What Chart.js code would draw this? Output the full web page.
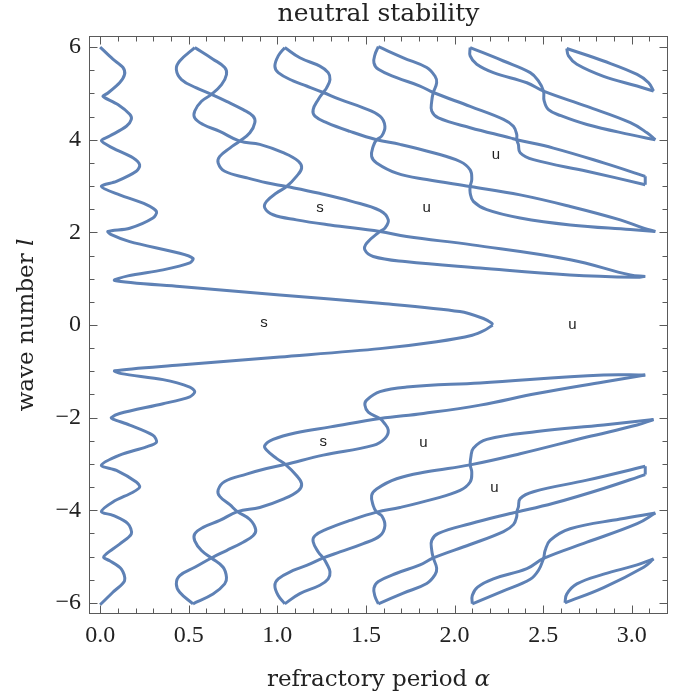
<!DOCTYPE html>
<html>
<head>
<meta charset="utf-8">
<title>neutral stability</title>
<script src="https://cdn.jsdelivr.net/npm/chart.js@4.4.1/dist/chart.umd.min.js"></script>
<style>
  html, body { margin: 0; padding: 0; background: #fff; }
  #wrap { width: 695px; height: 698px; }
</style>
</head>
<body>
<div id="wrap"><canvas id="chart" width="695" height="698"></canvas></div>
<script>
/* neutral stability curves (alpha vs wave number l) */
const BLUE = "#5e81b5";
const INK = "#222";
const FRAME = "#5a5a5a";

// ticks
const xMajor = [0, 0.5, 1, 1.5, 2, 2.5, 3];
const xMinor = [0.1, 0.2, 0.3, 0.4, 0.6, 0.7, 0.8, 0.9, 1.1, 1.2, 1.3, 1.4, 1.6, 1.7, 1.8, 1.9,
  2.1, 2.2, 2.3, 2.4, 2.6, 2.7, 2.8, 2.9, 3.1];
const yMajor = [-6, -4, -2, 0, 2, 4, 6];
const yMinor = [-5.5, -5, -4.5, -3.5, -3, -2.5, -1.5, -1, -0.5, 0.5, 1, 1.5, 2.5, 3, 3.5, 4.5, 5, 5.5];

// region labels
const labelText = ["s", "s", "u", "u", "u", "s", "u", "u"];
const labelAlpha = [0.925, 1.24, 1.843, 2.234, 2.665, 1.259, 1.824, 2.225];
const labelL = [0.05, 2.54, 2.53, 3.68, 0.0, -2.53, -2.55, -3.52];

// curve 1: zigzag near alpha = 0 joined to the main lobe (tip near 2.2)
const f1Up = [[0.0, 6.0], [0.072, 5.74], [0.129, 5.56], [0.138, 5.41], [0.11, 5.23], [0.044, 5.01], [0.016, 4.94],
  [0.025, 4.91], [0.1, 4.76], [0.167, 4.55], [0.176, 4.44], [0.148, 4.29], [0.054, 4.08], [0.007, 3.98],
  [0.072, 3.82], [0.185, 3.61], [0.223, 3.46], [0.204, 3.32], [0.092, 3.10], [0.007, 2.99], [0.11, 2.81],
  [0.261, 2.60], [0.318, 2.45], [0.298, 2.31], [0.167, 2.09], [0.044, 2.02], [0.063, 1.95], [0.167, 1.80],
  [0.449, 1.55], [0.524, 1.44], [0.506, 1.34], [0.355, 1.19], [0.157, 1.06], [0.082, 0.96], [0.449, 0.83],
  [1.014, 0.65], [1.579, 0.47], [2.03, 0.29], [2.163, 0.14], [2.21, 0.04], [2.215, 0.0]];
const f1Low = [[0.0, -6.04], [0.072, -5.77], [0.138, -5.52], [0.12, -5.27], [0.054, -5.09], [0.02, -5.02],
  [0.035, -4.94], [0.11, -4.73], [0.176, -4.51], [0.157, -4.29], [0.072, -4.11], [0.007, -4.03], [0.072, -3.82],
  [0.185, -3.61], [0.223, -3.50], [0.204, -3.39], [0.092, -3.14], [0.007, -3.03], [0.11, -2.81], [0.261, -2.63],
  [0.318, -2.53], [0.298, -2.38], [0.167, -2.16], [0.072, -2.03], [0.063, -2.0], [0.11, -1.91], [0.355, -1.70],
  [0.506, -1.55], [0.534, -1.44], [0.506, -1.34], [0.355, -1.18], [0.12, -1.05], [0.082, -0.99], [0.449, -0.866],
  [1.014, -0.69], [1.579, -0.51], [1.899, -0.36], [2.10, -0.22], [2.172, -0.108], [2.215, 0.0]];

// curve 2: braid from alpha ~ 0.53
const f2UpA = [[0.534, 5.99], [0.449, 5.70], [0.43, 5.52], [0.459, 5.30], [0.543, 5.12], [0.628, 4.98], [0.713, 4.83],
  [0.807, 4.65], [0.863, 4.51], [0.873, 4.37], [0.845, 4.15], [0.788, 3.97], [0.732, 3.82], [0.675, 3.64],
  [0.666, 3.50], [0.703, 3.32], [0.826, 3.18], [0.939, 3.07], [1.052, 2.99], [1.23, 2.85], [1.42, 2.67],
  [1.58, 2.47], [1.626, 2.27], [1.607, 2.09], [1.579, 2.02], [1.505, 1.77], [1.494, 1.62], [1.541, 1.48],
  [1.72, 1.37], [2.144, 1.23], [2.65, 1.08], [3.03, 1.03], [3.076, 1.05]];
const f2UpB = [[0.534, 5.99], [0.637, 5.74], [0.703, 5.56], [0.713, 5.41], [0.685, 5.19], [0.628, 4.98], [0.572, 4.83],
  [0.534, 4.62], [0.534, 4.47], [0.581, 4.33], [0.675, 4.18], [0.788, 3.97], [0.901, 3.90], [1.033, 3.72],
  [1.118, 3.54], [1.137, 3.39], [1.108, 3.21], [1.052, 2.99], [0.995, 2.85], [0.939, 2.67], [0.929, 2.53],
  [0.976, 2.38], [1.108, 2.27], [1.297, 2.16], [1.579, 2.02], [1.73, 1.91], [2.10, 1.73], [2.653, 1.41],
  [2.992, 1.08], [3.076, 1.05]];
const f2LowA = [[0.524, -6.02], [0.449, -5.77], [0.43, -5.59], [0.449, -5.41], [0.534, -5.23], [0.628, -5.03],
  [0.713, -4.87], [0.807, -4.69], [0.863, -4.55], [0.878, -4.42], [0.845, -4.2], [0.775, -4.03], [0.732, -3.88],
  [0.675, -3.70], [0.666, -3.56], [0.703, -3.38], [0.826, -3.22], [0.939, -3.10], [1.045, -3.01], [1.259, -2.81],
  [1.541, -2.60], [1.607, -2.45], [1.626, -2.27], [1.60, -2.10], [1.579, -2.02], [1.513, -1.88], [1.494, -1.73],
  [1.504, -1.62], [1.579, -1.44], [1.73, -1.34], [2.144, -1.25], [2.841, -1.08], [3.076, -1.08]];
const f2LowB = [[0.524, -6.02], [0.637, -5.81], [0.703, -5.59], [0.713, -5.45], [0.694, -5.23], [0.628, -5.03],
  [0.572, -4.87], [0.534, -4.66], [0.534, -4.51], [0.581, -4.37], [0.675, -4.22], [0.775, -4.03], [0.901, -3.94],
  [1.033, -3.76], [1.118, -3.58], [1.137, -3.43], [1.108, -3.25], [1.045, -3.01], [0.995, -2.88], [0.939, -2.70],
  [0.929, -2.60], [0.976, -2.47], [1.10, -2.33], [1.30, -2.20], [1.579, -2.02], [1.824, -1.91], [2.144, -1.73],
  [2.464, -1.48], [2.841, -1.23], [3.076, -1.08]];

// curve 3: braid from alpha ~ 1.04
const f3UpA = [[1.042, 5.99], [1.005, 5.81], [0.986, 5.59], [1.005, 5.45], [1.089, 5.27], [1.165, 5.16], [1.259, 5.02],
  [1.353, 4.87], [1.485, 4.69], [1.579, 4.51], [1.607, 4.29], [1.589, 4.08], [1.56, 4.0], [1.541, 3.86],
  [1.532, 3.64], [1.56, 3.50], [1.673, 3.28], [1.843, 3.14], [2.088, 2.99], [2.37, 2.81], [2.653, 2.56],
  [2.935, 2.27], [3.067, 2.09], [3.133, 2.02]];
const f3UpB = [[1.042, 5.99], [1.127, 5.77], [1.24, 5.59], [1.287, 5.45], [1.297, 5.30], [1.278, 5.12], [1.259, 5.02],
  [1.231, 4.87], [1.202, 4.65], [1.212, 4.51], [1.278, 4.37], [1.41, 4.18], [1.56, 4.0], [1.692, 3.90],
  [1.88, 3.72], [2.031, 3.53], [2.088, 3.35], [2.097, 3.14], [2.088, 2.99], [2.088, 2.85], [2.106, 2.67],
  [2.182, 2.49], [2.37, 2.31], [2.653, 2.16], [2.992, 2.06], [3.133, 2.02]];
const f3LowA = [[1.042, -6.02], [1.005, -5.84], [0.986, -5.63], [1.005, -5.48], [1.089, -5.30], [1.165, -5.19],
  [1.259, -5.03], [1.353, -4.90], [1.485, -4.72], [1.579, -4.55], [1.607, -4.33], [1.589, -4.12], [1.56, -4.04],
  [1.541, -3.90], [1.532, -3.68], [1.56, -3.54], [1.673, -3.32], [1.843, -3.17], [2.088, -3.02], [2.37, -2.78],
  [2.747, -2.42], [3.03, -2.16], [3.123, -2.04]];
const f3LowB = [[1.042, -6.02], [1.127, -5.80], [1.24, -5.62], [1.287, -5.48], [1.297, -5.33], [1.278, -5.15],
  [1.259, -5.03], [1.231, -4.90], [1.202, -4.68], [1.212, -4.55], [1.278, -4.41], [1.41, -4.22], [1.56, -4.04],
  [1.692, -3.94], [1.88, -3.76], [2.031, -3.57], [2.088, -3.39], [2.097, -3.17], [2.088, -3.02], [2.092, -2.85],
  [2.106, -2.66], [2.182, -2.47], [2.465, -2.30], [2.841, -2.16], [3.123, -2.04]];

// curve 4: braid from alpha ~ 1.57 (square end near alpha = 3.08)
const f4UpA = [[1.57, 6.01], [1.551, 5.84], [1.545, 5.66], [1.57, 5.52], [1.673, 5.34], [1.805, 5.16], [1.88, 5.02],
  [2.088, 4.72], [2.276, 4.44], [2.332, 4.29], [2.351, 4.11], [2.351, 4.0], [2.36, 3.90], [2.37, 3.72],
  [2.445, 3.57], [2.747, 3.32], [3.076, 3.03]];
const f4UpB = [[1.57, 6.01], [1.711, 5.77], [1.843, 5.56], [1.89, 5.37], [1.899, 5.23], [1.88, 5.02], [1.871, 4.83],
  [1.871, 4.62], [1.909, 4.47], [2.088, 4.26], [2.314, 4.04], [2.351, 4.0], [2.558, 3.82], [2.841, 3.50],
  [3.076, 3.21]];
const f4UpEnd = [[3.076, 3.21], [3.076, 3.03]];
const f4LowA = [[1.57, -6.02], [1.551, -5.86], [1.545, -5.68], [1.57, -5.54], [1.673, -5.36], [1.805, -5.18],
  [1.88, -5.03], [2.088, -4.74], [2.276, -4.46], [2.332, -4.31], [2.351, -4.13], [2.351, -4.04], [2.36, -3.93],
  [2.37, -3.75], [2.445, -3.60], [2.747, -3.35], [3.076, -3.05]];
const f4LowB = [[1.57, -6.02], [1.711, -5.79], [1.843, -5.58], [1.89, -5.39], [1.899, -5.25], [1.88, -5.03],
  [1.871, -4.86], [1.871, -4.65], [1.909, -4.50], [2.088, -4.29], [2.314, -4.07], [2.351, -4.04], [2.558, -3.85],
  [2.841, -3.53], [3.076, -3.23]];
const f4LowEnd = [[3.076, -3.23], [3.076, -3.05]];

// curve 5: from alpha ~ 2.09
const f5UpA = [[2.088, 5.99], [2.088, 5.81], [2.125, 5.63], [2.219, 5.45], [2.408, 5.23], [2.502, 5.05], [2.747, 4.72],
  [2.992, 4.37], [3.086, 4.15], [3.133, 4.0]];
const f5UpB = [[2.088, 5.99], [2.276, 5.70], [2.427, 5.45], [2.473, 5.27], [2.502, 5.05], [2.505, 4.85], [2.53, 4.65],
  [2.60, 4.52], [2.747, 4.33], [2.992, 4.11], [3.133, 4.0]];
const f5LowA = [[2.10, -6.02], [2.10, -5.84], [2.13, -5.66], [2.219, -5.48], [2.408, -5.26], [2.502, -5.04],
  [2.747, -4.69], [3.03, -4.29], [3.133, -4.06]];
const f5LowB = [[2.10, -6.02], [2.276, -5.74], [2.427, -5.49], [2.473, -5.30], [2.502, -5.04], [2.511, -4.87],
  [2.539, -4.65], [2.652, -4.40], [2.935, -4.19], [3.133, -4.06]];

// curve 6: closed loop from alpha ~ 2.63
const f6UpA = [[2.633, 5.97], [2.841, 5.70], [3.03, 5.41], [3.095, 5.23], [3.123, 5.05]];
const f6UpB = [[2.633, 5.97], [2.643, 5.81], [2.69, 5.63], [2.841, 5.37], [3.03, 5.16], [3.123, 5.05]];
const f6LowA = [[2.623, -6.0], [2.841, -5.67], [3.067, -5.23], [3.123, -5.05]];
const f6LowB = [[2.623, -6.0], [2.633, -5.81], [2.69, -5.59], [2.841, -5.38], [3.03, -5.18], [3.123, -5.05]];

const strands = [
  { pts: f1Up, t: 0.3 }, { pts: f1Low, t: 0.3 },
  { pts: f2UpA }, { pts: f2UpB }, { pts: f2LowA }, { pts: f2LowB },
  { pts: f3UpA }, { pts: f3UpB }, { pts: f3LowA }, { pts: f3LowB },
  { pts: f4UpA }, { pts: f4UpB }, { pts: f4UpEnd, t: 0 }, { pts: f4LowA }, { pts: f4LowB }, { pts: f4LowEnd, t: 0 },
  { pts: f5UpA }, { pts: f5UpB }, { pts: f5LowA }, { pts: f5LowB },
  { pts: f6UpA }, { pts: f6UpB }, { pts: f6LowA }, { pts: f6LowB },
];

const SERIF = '"DejaVu Serif", serif';
const TICKFONT = '"Liberation Serif", serif';

function minusFmt(v) {
  return v < 0 ? "\u2212" + Math.abs(v) : String(v);
}

// frame with inward ticks on all four sides, titles, region labels
const decor = {
  id: "decor",
  afterDatasetsDraw(chart) {
    const { ctx, scales: { x, y } } = chart;
    ctx.save();
    ctx.fillStyle = INK;
    ctx.font = '15px "Liberation Sans", sans-serif';
    ctx.textAlign = "center";
    ctx.textBaseline = "middle";
    labelText.forEach((t, i) => {
      ctx.fillText(t, x.getPixelForValue(labelAlpha[i]), y.getPixelForValue(labelL[i]));
    });
    ctx.restore();
  },
  afterDraw(chart) {
    const { ctx, chartArea: a, scales: { x, y } } = chart;
    const L = Math.round(a.left) + 0.5, R = Math.round(a.right) - 0.5;
    const T = Math.round(a.top) + 0.5, B = Math.round(a.bottom) - 0.5;
    ctx.save();
    ctx.strokeStyle = FRAME;
    ctx.lineWidth = 1;
    ctx.strokeRect(L, T, R - L, B - T);
    ctx.beginPath();
    const xt = (vals, len) => vals.forEach((v) => {
      const px = Math.round(x.getPixelForValue(v)) + 0.5;
      ctx.moveTo(px, B); ctx.lineTo(px, B - len);
      ctx.moveTo(px, T); ctx.lineTo(px, T + len);
    });
    const yt = (vals, len) => vals.forEach((v) => {
      const py = Math.round(y.getPixelForValue(v)) + 0.5;
      ctx.moveTo(L, py); ctx.lineTo(L + len, py);
      ctx.moveTo(R, py); ctx.lineTo(R - len, py);
    });
    xt(xMajor, 8); xt(xMinor, 5);
    yt(yMajor, 8); yt(yMinor, 5);
    ctx.stroke();

    // plot title
    ctx.fillStyle = INK;
    ctx.textBaseline = "alphabetic";
    ctx.textAlign = "center";
    ctx.font = "25px " + SERIF;
    const cx = (a.left + a.right) / 2;
    ctx.fillText("neutral stability", cx, 21);

    // axis labels with italic symbols
    const mixed = (plain, sym, px, py) => {
      ctx.font = "23px " + SERIF;
      const w1 = ctx.measureText(plain).width;
      ctx.font = "italic 23px " + SERIF;
      const w2 = ctx.measureText(sym).width;
      let sx = px - (w1 + w2) / 2;
      ctx.textAlign = "left";
      ctx.font = "23px " + SERIF;
      ctx.fillText(plain, sx, py);
      ctx.font = "italic 23px " + SERIF;
      ctx.fillText(sym, sx + w1, py);
    };
    mixed("refractory period ", "\u03b1", cx, 686);
    ctx.translate(33, (a.top + a.bottom) / 2);
    ctx.rotate(-Math.PI / 2);
    mixed("wave number ", "l", 0, 0);
    ctx.restore();
  },
};

new Chart(document.getElementById("chart"), {
  type: "scatter",
  data: {
    datasets: strands.map((s) => ({
      data: s.pts.map((p) => ({ x: p[0], y: p[1] })),
      showLine: true,
      borderColor: BLUE,
      borderWidth: 3,
      pointRadius: 0,
      pointHoverRadius: 0,
      tension: s.t === undefined ? 0.4 : s.t,
      fill: false,
    })),
  },
  options: {
    responsive: false,
    animation: false,
    devicePixelRatio: 1,
    layout: { padding: { top: 36, right: 27, left: 0, bottom: 0 } },
    plugins: { legend: { display: false }, tooltip: { enabled: false }, title: { display: false } },
    scales: {
      x: {
        type: "linear",
        min: -0.0628,
        max: 3.2044,
        grid: { display: false, drawTicks: false },
        border: { display: false },
        afterFit: (s) => { s.height = 84; },
        afterBuildTicks: (s) => { s.ticks = xMajor.map((v) => ({ value: v })); },
        ticks: {
          padding: 7,
          color: INK,
          autoSkip: false,
          maxRotation: 0,
          font: { family: TICKFONT, size: 24 },
          callback: (v) => v.toFixed(1),
        },
      },
      y: {
        type: "linear",
        min: -6.24,
        max: 6.24,
        grid: { display: false, drawTicks: false },
        border: { display: false },
        afterFit: (s) => { s.width = 89; },
        afterBuildTicks: (s) => { s.ticks = yMajor.map((v) => ({ value: v })); },
        ticks: {
          padding: 8,
          color: INK,
          autoSkip: false,
          font: { family: TICKFONT, size: 24 },
          callback: (v) => minusFmt(v),
        },
      },
    },
  },
  plugins: [decor],
});
</script>
</body>
</html>
